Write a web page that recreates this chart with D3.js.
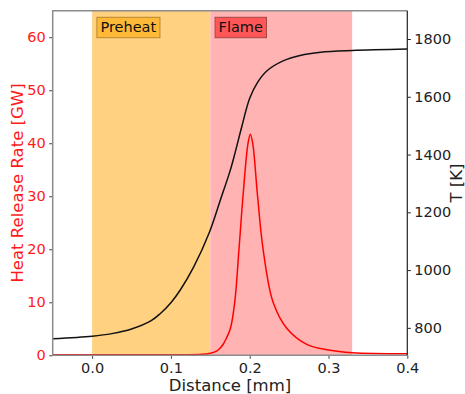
<!DOCTYPE html>
<meta charset="utf-8">
<style>
body { margin: 0; background: #fff; }
svg { font-family: "DejaVu Sans", sans-serif; }
.tick text { font-size: 14.5px; }
</style>
<body>
<script src="https://cdn.jsdelivr.net/npm/d3@7"></script>
<script>

// distance [mm] vs heat release rate [GW]
var hrrX = [-0.05, 0.1, 0.14, 0.15, 0.155, 0.16, 0.166, 0.17, 0.1754, 0.181, 0.1864, 0.1915, 0.1979, 0.2008,
            0.2038, 0.210, 0.217, 0.2297, 0.2475, 0.273, 0.30, 0.33, 0.4];
var hrrY = [0.1, 0.1, 0.2, 0.4, 0.6, 1.0, 2, 3.1, 5, 10, 20, 30, 40, 41.7,
            40, 30, 20, 10, 5, 2, 1, 0.5, 0.3];

// distance [mm] vs temperature [K]
var tX = [-0.05, 0.0, 0.025, 0.05, 0.075, 0.0864, 0.1, 0.1119, 0.1288, 0.149, 0.1627, 0.1754,
          0.1818, 0.19, 0.2, 0.21, 0.222, 0.243, 0.264, 0.29, 0.33, 0.4];
var tY = [762, 771, 780, 796, 825, 849, 887, 931, 1010, 1132, 1242, 1346,
          1410, 1497, 1595, 1650, 1690, 1725, 1743, 1754, 1760, 1765];

// zones
var zones = [
  {name: "Preheat", from: 0.0, to: 0.15, fill: "#ffd180", box: "#ffb938", edge: "#b8862e"},
  {name: "Flame", from: 0.15, to: 0.33, fill: "#ffb3b3", box: "#ff5757", edge: "#a84545"}
];

var xTicks = [0.0, 0.1, 0.2, 0.3, 0.4];
var hrrTicks = [0, 10, 20, 30, 40, 50, 60];
var tTicks = [800, 1000, 1200, 1400, 1600, 1800];

var W = 465, H = 394;
var margin = {top: 10.7, right: 57.7, bottom: 38.7, left: 52.7};
var width = W - margin.left - margin.right,
    height = H - margin.top - margin.bottom;

var x = d3.scaleLinear().domain([-0.05, 0.4]).range([0, width]);
var y = d3.scaleLinear().domain([0, 65]).range([height, 0]);
var y2 = d3.scaleLinear().domain([705, 1898]).range([height, 0]);

var svg = d3.select("body").append("svg")
    .attr("width", W)
    .attr("height", H)
  .append("g")
    .attr("transform", "translate(" + margin.left + "," + margin.top + ")");

// shaded zones
svg.selectAll("rect.zone")
  .data(zones)
  .enter().append("rect")
    .attr("class", "zone")
    .attr("x", function(d) { return x(d.from); })
    .attr("y", 0)
    .attr("width", function(d) { return x(d.to) - x(d.from); })
    .attr("height", height)
    .attr("fill", function(d) { return d.fill; });

// zone labels with boxes
zones.forEach(function(d) {
  var g = svg.append("g")
    .attr("transform", "translate(" + (x(d.from) + 4.8) + ",6.6)");
  var box = g.append("rect")
    .attr("fill", d.box)
    .attr("stroke", d.edge)
    .attr("stroke-width", 1);
  var t = g.append("text")
    .attr("x", 3.5)
    .attr("y", 14.8)
    .attr("font-size", "14.5px")
    .attr("fill", "#111")
    .text(d.name);
  var bb = t.node().getBBox();
  box.attr("x", 0).attr("y", 0)
    .attr("width", bb.width + 7)
    .attr("height", 20.4);
});

var tLine = d3.line()
  .x(function(d) { return x(d[0]); })
  .y(function(d) { return y2(d[1]); })
  .curve(d3.curveCatmullRom.alpha(0.5));

var hLine = d3.line()
  .x(function(d) { return x(d[0]); })
  .y(function(d) { return y(d[1]); })
  .curve(d3.curveCatmullRom.alpha(0.5));

svg.append("path")
  .datum(d3.zip(hrrX, hrrY))
  .attr("d", hLine)
  .attr("fill", "none")
  .attr("stroke", "#ff0000")
  .attr("stroke-width", 1.5);

svg.append("path")
  .datum(d3.zip(tX, tY))
  .attr("d", tLine)
  .attr("fill", "none")
  .attr("stroke", "#111")
  .attr("stroke-width", 1.5);

// axes
var xAxis = svg.append("g")
  .attr("transform", "translate(0," + height + ")")
  .call(d3.axisBottom(x).tickValues(xTicks).tickFormat(d3.format(".1f")).tickSizeOuter(0).tickSize(3.5).tickPadding(3.5));
var yAxis = svg.append("g")
  .call(d3.axisLeft(y).tickValues(hrrTicks).tickSizeOuter(0).tickSize(3.5).tickPadding(3.5));
var y2Axis = svg.append("g")
  .attr("transform", "translate(" + width + ",0)")
  .call(d3.axisRight(y2).tickValues(tTicks).tickFormat(d3.format("d")).tickSizeOuter(0).tickSize(3.5).tickPadding(3.5));

[xAxis, yAxis, y2Axis].forEach(function(a) {
  a.select(".domain").remove();
  a.selectAll("text").attr("font-family", "DejaVu Sans, sans-serif");
});
xAxis.selectAll(".tick line").attr("stroke", "#444");
xAxis.selectAll(".tick text").attr("fill", "#222");
yAxis.selectAll(".tick line").attr("stroke", "#444");
yAxis.selectAll(".tick text").attr("fill", "#ff1a1a");
y2Axis.selectAll(".tick line").attr("stroke", "#222");
y2Axis.selectAll(".tick text").attr("fill", "#222");

// spines
svg.append("path")
  .attr("d", "M0," + height + "V0H" + width)
  .attr("fill", "none")
  .attr("stroke", "#8c8c8c")
  .attr("stroke-width", 1.5);
svg.append("line")
  .attr("x1", 0).attr("x2", width)
  .attr("y1", height).attr("y2", height)
  .attr("stroke", "#8c8c8c")
  .attr("stroke-width", 1.5);
svg.append("line")
  .attr("x1", width).attr("x2", width)
  .attr("y1", 0).attr("y2", height)
  .attr("stroke", "#222")
  .attr("stroke-width", 1.2);

// axis titles
svg.append("text")
  .attr("x", width / 2)
  .attr("y", height + 35.5)
  .attr("text-anchor", "middle")
  .attr("font-size", "16.5px")
  .attr("fill", "#222")
  .text("Distance [mm]");

svg.append("text")
  .attr("transform", "translate(" + (-30) + "," + (height / 2) + ") rotate(-90)")
  .attr("text-anchor", "middle")
  .attr("font-size", "16.5px")
  .attr("fill", "#ff1a1a")
  .text("Heat Release Rate [GW]");

svg.append("text")
  .attr("transform", "translate(" + (width + 55) + "," + (height / 2) + ") rotate(-90)")
  .attr("text-anchor", "middle")
  .attr("font-size", "16.5px")
  .attr("fill", "#222")
  .text("T [K]");

</script>
</body>
